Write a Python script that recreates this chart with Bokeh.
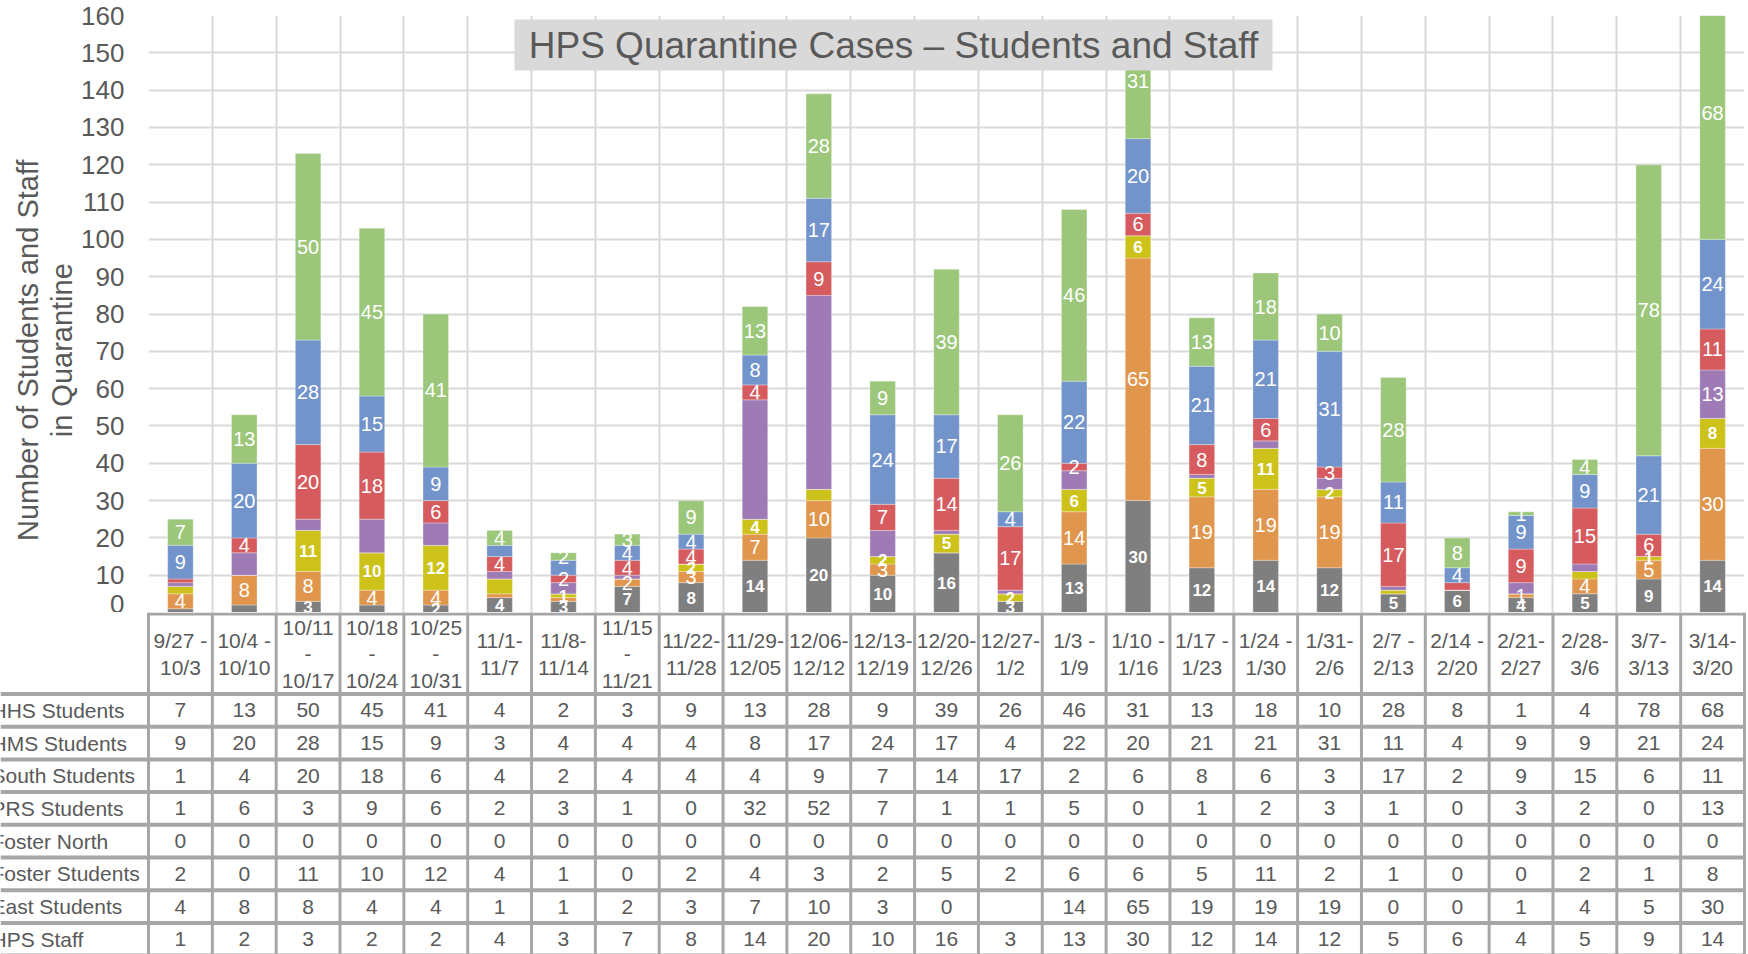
from bokeh.plotting import figure
from bokeh.models import (Range1d, FixedTicker, Label, BoxAnnotation, ColumnDataSource, Grid,
                          LinearAxis)
from bokeh.layouts import column
from bokeh.embed import file_html
from bokeh.resources import INLINE
from bokeh.core.properties import value

# ---------------- data ----------------
categories = ["9/27 -\n10/3", "10/4 -\n10/10", "10/11\n-\n10/17", "10/18\n-\n10/24",
              "10/25\n-\n10/31", "11/1-\n11/7", "11/8-\n11/14", "11/15\n-\n11/21",
              "11/22-\n11/28", "11/29-\n12/05", "12/06-\n12/12", "12/13-\n12/19",
              "12/20-\n12/26", "12/27-\n1/2", "1/3 -\n1/9", "1/10 -\n1/16",
              "1/17 -\n1/23", "1/24 -\n1/30", "1/31-\n2/6", "2/7 -\n2/13",
              "2/14 -\n2/20", "2/21-\n2/27", "2/28-\n3/6", "3/7-\n3/13", "3/14-\n3/20"]

hhs_students = [7, 13, 50, 45, 41, 4, 2, 3, 9, 13, 28, 9, 39, 26, 46, 31, 13, 18, 10, 28, 8, 1, 4, 78, 68]
hms_students = [9, 20, 28, 15, 9, 3, 4, 4, 4, 8, 17, 24, 17, 4, 22, 20, 21, 21, 31, 11, 4, 9, 9, 21, 24]
south_students = [1, 4, 20, 18, 6, 4, 2, 4, 4, 4, 9, 7, 14, 17, 2, 6, 8, 6, 3, 17, 2, 9, 15, 6, 11]
prs_students = [1, 6, 3, 9, 6, 2, 3, 1, 0, 32, 52, 7, 1, 1, 5, 0, 1, 2, 3, 1, 0, 3, 2, 0, 13]
foster_north = [0] * 25
foster_students = [2, 0, 11, 10, 12, 4, 1, 0, 2, 4, 3, 2, 5, 2, 6, 6, 5, 11, 2, 1, 0, 0, 2, 1, 8]
east_students = [4, 8, 8, 4, 4, 1, 1, 2, 3, 7, 10, 3, 0, None, 14, 65, 19, 19, 19, 0, 0, 1, 4, 5, 30]
hps_staff = [1, 2, 3, 2, 2, 4, 3, 7, 8, 14, 20, 10, 16, 3, 13, 30, 12, 14, 12, 5, 6, 4, 5, 9, 14]

y_ticks = list(range(0, 161, 10))

# table order (top to bottom)
table_rows = [
    ("HHS Students", hhs_students),
    ("HMS Students", hms_students),
    ("South Students", south_students),
    ("PRS Students", prs_students),
    ("Foster North", foster_north),
    ("Foster Students", foster_students),
    ("East Students", east_students),
    ("HPS Staff", hps_staff),
]

# stacking order (bottom to top) with colours
stack = [
    ("HPS Staff", hps_staff, "#7F7F7F"),
    ("East Students", east_students, "#E0964C"),
    ("Foster Students", foster_students, "#CDC21A"),
    ("Foster North", foster_north, "#4BACC6"),
    ("PRS Students", prs_students, "#9E7BB5"),
    ("South Students", south_students, "#D55B5E"),
    ("HMS Students", hms_students, "#7294CB"),
    ("HHS Students", hhs_students, "#9CC77B"),
]

# data labels that are not shown in the original
hidden_labels = {"HMS Students": {5, 6}, "South Students": {0, 20},
                 "Foster Students": {0, 5, 10, 19, 22}, "East Students": {5, 6},
                 "HPS Staff": {0, 1, 3}, "Foster North": set(range(25))}
only_labels = {"PRS Students": {24}}
bold_series = {"HPS Staff", "Foster Students"}

# ---------------- layout constants ----------------
FONT = "Liberation Sans"
TXT = "#595959"
W = 1748
HA = 612
HB = 954 - HA
LEFT = 148
RIGHT_PAD = 4
TOP_PAD = 15
N = len(categories)
ppu = (W - LEFT - RIGHT_PAD) / N
ppy = (HA - TOP_PAD) / 160.0
NBSP = "\u00a0" * 9   # shifts the centred axis titles down, as in the original


def rx(px):
    return (px - LEFT) / ppu


def ry(py):
    return (HA - py) / ppy


# ---------------- chart ----------------
p = figure(width=W, height=HA, x_range=Range1d(0, N), y_range=Range1d(0, 160),
           output_backend="svg", toolbar_location=None, x_axis_location=None,
           min_border_left=LEFT, min_border_right=RIGHT_PAD, min_border_top=TOP_PAD,
           min_border_bottom=0)
p.outline_line_color = None
p.background_fill_color = "white"

p.yaxis.ticker = FixedTicker(ticks=y_ticks)
p.yaxis.axis_line_color = None
p.yaxis.major_tick_line_color = None
p.yaxis.minor_tick_line_color = None
p.yaxis.major_tick_out = 0
p.yaxis.major_tick_in = 0
p.yaxis.major_label_standoff = 24
p.yaxis.major_label_text_font_size = "26px"
p.yaxis.major_label_text_color = TXT
p.yaxis.major_label_text_font = FONT
p.yaxis.axis_label = "in Quarantine" + NBSP
p.yaxis.axis_label_standoff = 0
p.yaxis.axis_label_text_font = FONT
p.yaxis.axis_label_text_font_size = "29px"
p.yaxis.axis_label_text_font_style = "normal"
p.yaxis.axis_label_text_color = TXT

ax2 = LinearAxis(ticker=FixedTicker(ticks=[]), axis_line_color=None,
                 major_tick_line_color=None, minor_tick_line_color=None,
                 major_tick_out=0, major_tick_in=0, major_label_standoff=0,
                 axis_label="Number of Students and Staff" + NBSP, axis_label_standoff=0,
                 axis_label_text_font=FONT, axis_label_text_font_size="29px",
                 axis_label_text_font_style="normal", axis_label_text_color=TXT)
p.add_layout(ax2, "left")

p.ygrid.grid_line_color = "#D9D9D9"
p.ygrid.grid_line_width = 2
p.add_layout(Grid(dimension=0, ticker=FixedTicker(ticks=list(range(N + 1))),
                  grid_line_color="#D9D9D9", grid_line_width=2))

xs = [i + 0.5 for i in range(N)]
src = {"x": xs}
for name, vals, _ in stack:
    src[name] = [0 if v is None else v for v in vals]
source = ColumnDataSource(src)
p.vbar_stack([s[0] for s in stack], x="x", width=0.4, source=source,
             color=[s[2] for s in stack], line_color="white", line_width=0.6, line_alpha=0.5)

reg = {"x": [], "y": [], "t": []}
bold = {"x": [], "y": [], "t": []}
base = [0.0] * N
for name, vals, _ in stack:
    for i, v in enumerate(vals):
        vv = 0 if v is None else v
        show = vv > 0
        if name in hidden_labels and i in hidden_labels[name]:
            show = False
        if name in only_labels and i not in only_labels[name]:
            show = False
        if show:
            d = bold if name in bold_series else reg
            d["x"].append(xs[i])
            d["y"].append(base[i] + vv / 2.0)
            d["t"].append(str(vv))
        base[i] += vv

p.text(x="x", y="y", text="t", source=ColumnDataSource(reg), text_color="white",
       text_font=value(FONT), text_font_size="20px", text_align="center",
       text_baseline="middle")
p.text(x="x", y="y", text="t", source=ColumnDataSource(bold), text_color="white",
       text_font=value(FONT), text_font_size="17px", text_font_style="bold",
       text_align="center", text_baseline="middle")

# title box
p.add_layout(BoxAnnotation(left=rx(514), right=rx(1272), top=ry(19), bottom=ry(70),
                           fill_color="#D9D9D9", fill_alpha=1.0, line_color=None))
p.add_layout(Label(x=(rx(514) + rx(1272)) / 2, y=(ry(19) + ry(70)) / 2,
                   text="HPS Quarantine Cases \u2013 Students and Staff",
                   text_font=FONT, text_font_size="37px", text_color=TXT,
                   text_align="center", text_baseline="middle"))

# ---------------- data table ----------------
t = figure(width=W, height=HB, x_range=Range1d(-LEFT / ppu, N + RIGHT_PAD / ppu),
           y_range=Range1d(HB, 0), output_backend="svg", toolbar_location=None,
           x_axis_location=None, y_axis_location=None, min_border=0)
t.outline_line_color = None
t.grid.visible = False

LINE = "#A6A6A6"
HEAD_BOTTOM = 81.5
ROW_H = 32.7
xl = -LEFT / ppu

t.segment(x0=[0], y0=[1.5], x1=[N], y1=[1.5], line_color=LINE, line_width=3)
hy = [HEAD_BOTTOM + ROW_H * k for k in range(0, 9)]
t.segment(x0=[xl] * len(hy), y0=hy, x1=[N] * len(hy), y1=hy, line_color=LINE, line_width=4)
vx = list(range(N + 1))
t.segment(x0=vx, y0=[0] * len(vx), x1=vx, y1=[HB] * len(vx), line_color=LINE, line_width=3)

t.text(x=xs, y=[(1.5 + HEAD_BOTTOM) / 2] * N, text=categories, text_color=TXT,
       text_font=value(FONT), text_font_size="21px", text_align="center",
       text_baseline="middle", text_line_height=1.17)

cx, cy, ct = [], [], []
lx, ly, lt = [], [], []
for r, (name, vals) in enumerate(table_rows):
    yc = HEAD_BOTTOM + ROW_H * r + ROW_H / 2
    lx.append(rx(-9))
    ly.append(yc)
    lt.append(name)
    for i, v in enumerate(vals):
        cx.append(xs[i])
        cy.append(yc)
        ct.append("" if v is None else str(v))

t.text(x=cx, y=cy, text=ct, text_color=TXT, text_font=value(FONT), text_font_size="21px",
       text_align="center", text_baseline="middle")
t.text(x=lx, y=ly, text=lt, text_color=TXT, text_font=value(FONT), text_font_size="21px",
       text_align="left", text_baseline="middle")

try:
    p.frame_align = False
    t.frame_align = False
    root = column(p, t, spacing=0)
except Exception:
    root = [p, t]

open("out.html", "w").write(file_html(root, INLINE))
